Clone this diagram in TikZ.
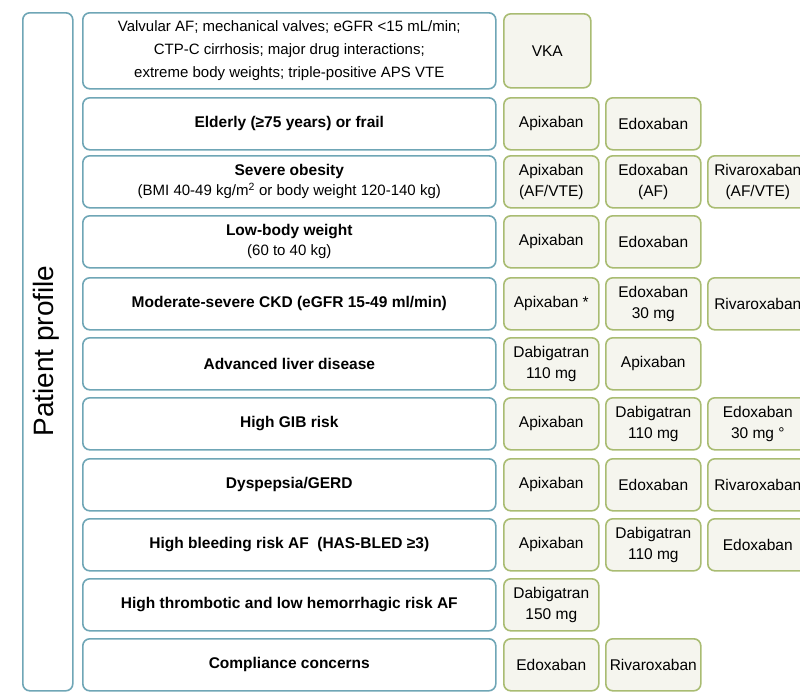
\documentclass[tikz,border=0pt]{standalone}
\usepackage{fontspec}
\setmainfont{Liberation Sans}
\begin{document}
\begin{tikzpicture}[x=1pt,y=-1pt,
  pbox/.style={draw=blueb,line width=1.6pt,rounded corners=7pt,fill=white,anchor=north west,align=center,inner sep=0pt,font=\fontsize{15.5}{19}\selectfont},
  dbox/.style={draw=greenb,line width=1.6pt,rounded corners=7pt,fill=greenf,anchor=north west,align=center,inner sep=0pt,font=\fontsize{15.5}{21}\selectfont,minimum width=95pt}]
\definecolor{blueb}{HTML}{6FA6B6}
\definecolor{greenb}{HTML}{A9BC72}
\definecolor{greenf}{HTML}{F5F5EE}
\useasboundingbox (0,0) rectangle (800,694);
\clip (0,0) rectangle (800,694);
\node[pbox,minimum width=50pt,minimum height=678pt] (side) at (22,12) {};
\node[rotate=90,font=\fontsize{28}{32}\selectfont] (lab) at (46,351) {Patient profile};
\node[pbox,minimum width=413pt,minimum height=76pt,font=\fontsize{15}{23}\selectfont] (r1) at (82,12) {Valvular AF; mechanical valves; eGFR <15 mL/min;\\CTP-C cirrhosis; major drug interactions;\\extreme body weights; triple-positive APS VTE};
\node[dbox,minimum width=87pt,minimum height=74pt] (v1) at (503,13) {VKA};
\foreach \n/\y/\t in {2/97/{\textbf{Elderly (≥75 years) or frail}},
 3/155/{\textbf{Severe obesity}\\[1pt]{\fontsize{15}{18}\selectfont (BMI 40-49 kg/m\textsuperscript{2} or body weight 120-140 kg)}},
 4/215/{\textbf{Low-body weight}\\[1pt]{\fontsize{15}{18}\selectfont (60 to 40 kg)}},
 5/277/{\textbf{Moderate-severe CKD (eGFR 15-49 ml/min)}},
 6/337/{\textbf{Advanced liver disease}},
 7/397/{\textbf{High GIB risk}},
 8/458/{\textbf{Dyspepsia/GERD}},
 9/518/{\textbf{High bleeding risk AF\ \ (HAS-BLED ≥3)}},
 10/578/{\textbf{High thrombotic and low hemorrhagic risk AF}},
 11/638/{\textbf{Compliance concerns}}}
 {\node[pbox,minimum width=413pt,minimum height=52pt] (r\n) at (82,\y) {\t};}
\foreach \n/\y/\a/\b/\c in {2/97/Apixaban/Edoxaban/,
 3/155/{Apixaban\\(AF/VTE)}/{Edoxaban\\(AF)}/{Rivaroxaban\\(AF/VTE)},
 4/215/Apixaban/Edoxaban/,
 5/277/{Apixaban *}/{Edoxaban\\30 mg}/Rivaroxaban,
 6/337/{Dabigatran\\110 mg}/Apixaban/,
 7/397/Apixaban/{Dabigatran\\110 mg}/{Edoxaban\\30 mg °},
 8/458/Apixaban/Edoxaban/Rivaroxaban,
 9/518/Apixaban/{Dabigatran\\110 mg}/Edoxaban,
 10/578/{Dabigatran\\150 mg}//,
 11/638/Edoxaban/Rivaroxaban/}
 {\node[dbox,minimum height=52pt] (a\n) at (503,\y) {\a};
  \if\relax\detokenize\expandafter{\b}\relax\else\node[dbox,minimum height=52pt] (b\n) at (605,\y) {\b};\fi
  \if\relax\detokenize\expandafter{\c}\relax\else\node[dbox,minimum height=52pt,minimum width=100pt] (c\n) at (707,\y) {\c};\fi}
\end{tikzpicture}
\end{document}
